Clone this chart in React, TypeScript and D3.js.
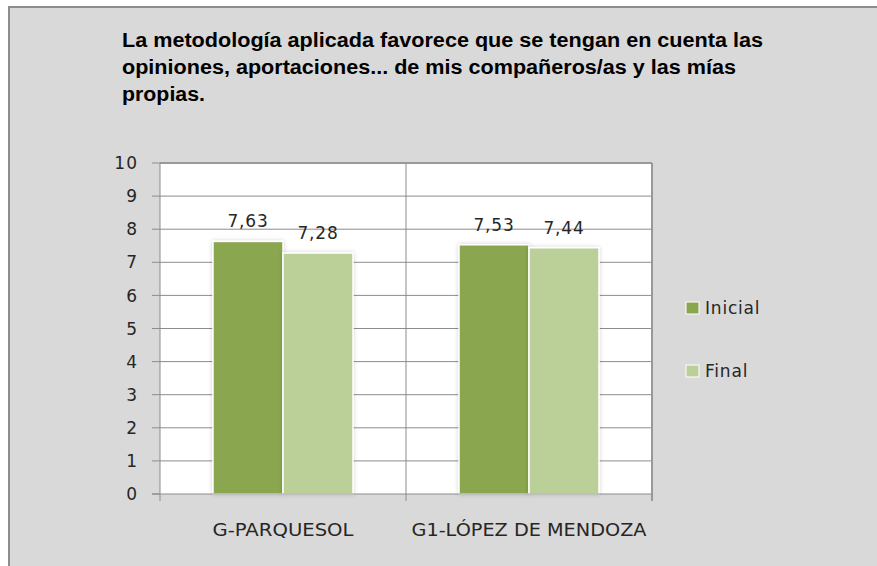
import React, { useEffect, useRef } from "react";
import * as d3 from "d3";

const categories = ["G-PARQUESOL", "G1-LÓPEZ DE MENDOZA"];
const series = ["Inicial", "Final"];
const inicialValues = [7.63, 7.53];
const finalValues = [7.28, 7.44];
const yTicks = [0, 1, 2, 3, 4, 5, 6, 7, 8, 9, 10];
const titleLines = [
  "La metodología aplicada favorece que se tengan en cuenta las",
  "opiniones, aportaciones... de mis compañeros/as y las mías",
  "propias.",
];
const colors = ["#8AA64F", "#BBCF98"];

export default function App() {
  const ref = useRef<SVGSVGElement>(null);

  useEffect(() => {
    const width = 877;
    const height = 566;
    const margin = { top: 163, left: 160, right: 225, bottom: 72 };
    const plotW = width - margin.left - margin.right;
    const plotH = height - margin.top - margin.bottom;

    const svg = d3.select(ref.current).attr("width", width).attr("height", height);
    svg.selectAll("*").remove();

    const defs = svg.append("defs");
    const f = defs.append("filter").attr("id", "shadow").attr("x", "-20%").attr("y", "-20%").attr("width", "140%").attr("height", "140%");
    f.append("feDropShadow").attr("dx", 0).attr("dy", 0).attr("stdDeviation", 2).attr("flood-color", "#000").attr("flood-opacity", 0.18);

    // background + frame
    svg.append("rect").attr("width", width).attr("height", height).attr("fill", "#fff");
    svg.append("rect").attr("x", 9).attr("y", 7).attr("width", width + 10).attr("height", height + 10)
      .attr("fill", "#D9D9D9").attr("stroke", "#8C8C8C").attr("stroke-width", 2);

    // title
    const titleLens = [641, 614, 83];
    svg.selectAll(".title").data(titleLines).join("text").attr("class", "title")
      .attr("x", 122).attr("y", (d, i) => 47 + i * 27)
      .attr("font-family", "'Liberation Sans', Arial, sans-serif").attr("font-weight", "bold")
      .attr("font-size", 20).attr("fill", "#000")
      .attr("textLength", (d, i) => titleLens[i]).attr("lengthAdjust", "spacingAndGlyphs")
      .text(d => d);

    const x0 = d3.scaleBand().domain(categories).range([0, plotW]);
    const x1 = d3.scaleBand().domain(series).range([0, x0.bandwidth()]).paddingOuter(0.757);
    const y = d3.scaleLinear().domain([0, 10]).range([plotH, 0]);

    const g = svg.append("g").attr("transform", `translate(${margin.left},${margin.top})`);

    g.append("rect").attr("width", plotW).attr("height", plotH).attr("fill", "#fff");

    // gridlines
    g.selectAll(".grid").data(yTicks.filter(t => t > 0)).join("line").attr("class", "grid")
      .attr("x1", 0).attr("x2", plotW).attr("y1", d => y(d)).attr("y2", d => y(d))
      .attr("stroke", "#8C8C8C").attr("stroke-width", 1);

    // category divider & plot border
    g.append("line").attr("x1", x0.bandwidth()).attr("x2", x0.bandwidth()).attr("y1", 0).attr("y2", plotH + 7)
      .attr("stroke", "#8C8C8C");
    g.append("line").attr("x1", 0).attr("x2", plotW).attr("y1", 0).attr("y2", 0).attr("stroke", "#999").attr("stroke-width", 2);
    g.append("line").attr("x1", plotW).attr("x2", plotW).attr("y1", 0).attr("y2", plotH + 7).attr("stroke", "#999").attr("stroke-width", 2);

    // bars
    const rows = categories.map((c, i) => ({ c, vals: [inicialValues[i], finalValues[i]] }));
    const grp = g.selectAll(".grp").data(rows).join("g").attr("class", "grp")
      .attr("transform", d => `translate(${x0(d.c)},0)`);
    grp.selectAll("rect").data(d => d.vals.map((v, j) => ({ s: series[j], v, j }))).join("rect")
      .attr("x", d => x1(d.s)!)
      .attr("y", d => y(d.v))
      .attr("width", x1.bandwidth())
      .attr("height", d => plotH - y(d.v))
      .attr("fill", d => colors[d.j])
      .attr("stroke", "#fff").attr("stroke-width", 1.5)
      .attr("filter", "url(#shadow)");
    grp.selectAll("text").data(d => d.vals.map((v, j) => ({ s: series[j], v, j }))).join("text")
      .attr("x", d => x1(d.s)! + x1.bandwidth() / 2)
      .attr("y", d => y(d.v) - 14)
      .attr("text-anchor", "middle")
      .attr("font-family", "'DejaVu Sans', sans-serif").attr("font-size", 17).attr("letter-spacing", 0.8)
      .attr("fill", "#262626")
      .text(d => d.v.toFixed(2).replace(".", ","));

    // y axis
    g.append("line").attr("x1", 0).attr("x2", 0).attr("y1", 0).attr("y2", plotH + 7).attr("stroke", "#8C8C8C");
    g.append("line").attr("x1", -8).attr("x2", plotW).attr("y1", plotH).attr("y2", plotH).attr("stroke", "#8C8C8C");
    g.selectAll(".ytick").data(yTicks).join("line").attr("class", "ytick")
      .attr("x1", -8).attr("x2", 0).attr("y1", d => y(d)).attr("y2", d => y(d)).attr("stroke", "#8C8C8C");
    g.selectAll(".ylab").data(yTicks).join("text").attr("class", "ylab")
      .attr("x", -22).attr("y", d => y(d)).attr("dy", "0.36em").attr("text-anchor", "end")
      .attr("font-family", "'DejaVu Sans', sans-serif").attr("font-size", 17).attr("letter-spacing", 1)
      .attr("fill", "#262626").text(d => d);

    // category labels
    const catLens = [141, 235];
    g.selectAll(".xlab").data(categories).join("text").attr("class", "xlab")
      .attr("x", d => x0(d)! + x0.bandwidth() / 2).attr("y", plotH + 42)
      .attr("text-anchor", "middle")
      .attr("font-family", "'DejaVu Sans', sans-serif").attr("font-size", 17)
      .attr("textLength", (d, i) => catLens[i]).attr("lengthAdjust", "spacingAndGlyphs")
      .attr("fill", "#262626").text(d => d);

    // legend
    const lg = svg.append("g").attr("transform", "translate(686,302)");
    const li = lg.selectAll("g").data(series).join("g").attr("transform", (d, i) => `translate(0,${i * 63})`);
    li.append("rect").attr("width", 13).attr("height", 12).attr("fill", (d, i) => colors[i]).attr("stroke", "#fff").attr("stroke-width", 1);
    li.append("text").attr("x", 19).attr("y", 12)
      .attr("font-family", "'DejaVu Sans', sans-serif").attr("font-size", 17).attr("letter-spacing", 0.8)
      .attr("fill", "#262626").text(d => d);
  }, []);

  return (
    <div style={{ position: "absolute", left: 0, top: 0 }}>
      <svg ref={ref}></svg>
    </div>
  );
}
